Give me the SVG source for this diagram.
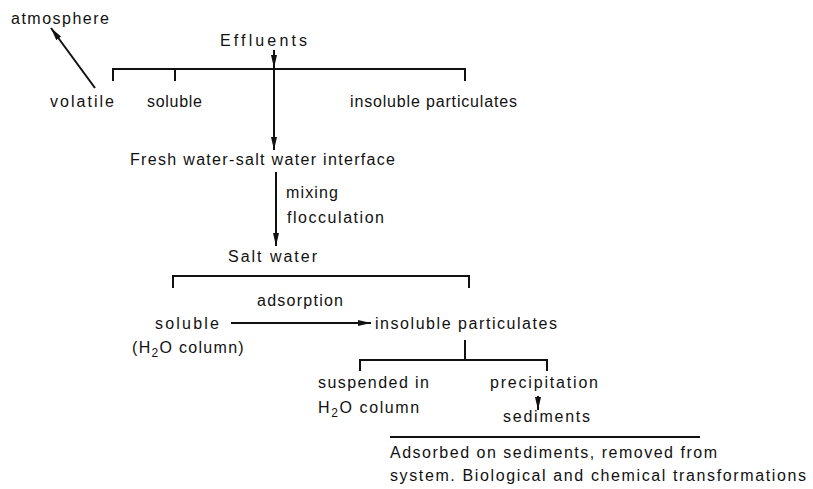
<svg xmlns="http://www.w3.org/2000/svg" width="813" height="489" viewBox="0 0 813 489">
<style>
text{font-family:"Liberation Sans",Arial,sans-serif;font-size:16px;fill:#111;}
.sub{font-size:12px;}
.ln{stroke:#111;stroke-width:2;fill:none;}
.ar{stroke:#111;stroke-width:2;fill:none;marker-end:url(#ah);}
</style>
<defs>
<marker id="ah" viewBox="0 0 13 6" refX="13" refY="3" markerWidth="13" markerHeight="6" markerUnits="userSpaceOnUse" orient="auto">
<path d="M0,0 L13,3 L0,6 Z" fill="#111"/>
</marker>
</defs>
<rect width="813" height="489" fill="#fff"/>
<g id="connectors">
<line class="ar" x1="95" y1="88" x2="51" y2="28"/>
<line class="ar" x1="274" y1="50" x2="274" y2="68"/>
<path class="ln" d="M113,81 V69 H465 V81 M175,69 V81"/>
<line class="ar" x1="274" y1="69" x2="274" y2="150"/>
<line class="ar" x1="276" y1="172" x2="276" y2="246"/>
<path class="ln" d="M173,288 V276 H469 V288"/>
<line class="ar" x1="231" y1="323" x2="371" y2="323"/>
<path class="ln" d="M465,340 V360 M360,371 V360 H547 V371"/>
<line class="ar" x1="538" y1="396" x2="538" y2="410"/>
<line class="ln" x1="390" y1="437" x2="700" y2="437"/>
</g>
<g id="atmosphere"><text x="11" y="24" textLength="98" lengthAdjust="spacing">atmosphere</text></g>
<g id="effluents"><text x="220" y="46" textLength="87" lengthAdjust="spacing">Effluents</text></g>
<g id="volatile"><text x="50" y="107" textLength="64" lengthAdjust="spacing">volatile</text></g>
<g id="soluble1"><text x="147" y="107" textLength="55" lengthAdjust="spacing">soluble</text></g>
<g id="insoluble1"><text x="350" y="107" textLength="167" lengthAdjust="spacing">insoluble particulates</text></g>
<g id="interface"><text x="130" y="165" textLength="265" lengthAdjust="spacing">Fresh water-salt water interface</text></g>
<g id="mixing"><text x="286" y="198" textLength="52" lengthAdjust="spacing">mixing</text></g>
<g id="flocculation"><text x="287" y="223" textLength="97" lengthAdjust="spacing">flocculation</text></g>
<g id="saltwater"><text x="228" y="262" textLength="89" lengthAdjust="spacing">Salt water</text></g>
<g id="adsorption"><text x="257" y="306" textLength="86" lengthAdjust="spacing">adsorption</text></g>
<g id="soluble2">
<text x="155" y="329" textLength="64" lengthAdjust="spacing">soluble</text>
<text x="132" y="353" letter-spacing="1.3">(H<tspan class="sub" dy="4">2</tspan><tspan dy="-4">O column)</tspan></text>
</g>
<g id="insoluble2"><text x="375" y="329" textLength="182" lengthAdjust="spacing">insoluble particulates</text></g>
<g id="suspended">
<text x="318" y="388" textLength="111" lengthAdjust="spacing">suspended in</text>
<text x="318" y="413" letter-spacing="1.6">H<tspan class="sub" dy="4">2</tspan><tspan dy="-4">O column</tspan></text>
</g>
<g id="precipitation"><text x="490" y="388" textLength="108" lengthAdjust="spacing">precipitation</text></g>
<g id="sediments"><text x="503" y="422" textLength="87" lengthAdjust="spacing">sediments</text></g>
<g id="adsorbed">
<text x="390" y="458" textLength="327" lengthAdjust="spacing">Adsorbed on sediments, removed from</text>
<text x="390" y="481" textLength="416" lengthAdjust="spacing">system. Biological and chemical transformations</text>
</g>
</svg>
